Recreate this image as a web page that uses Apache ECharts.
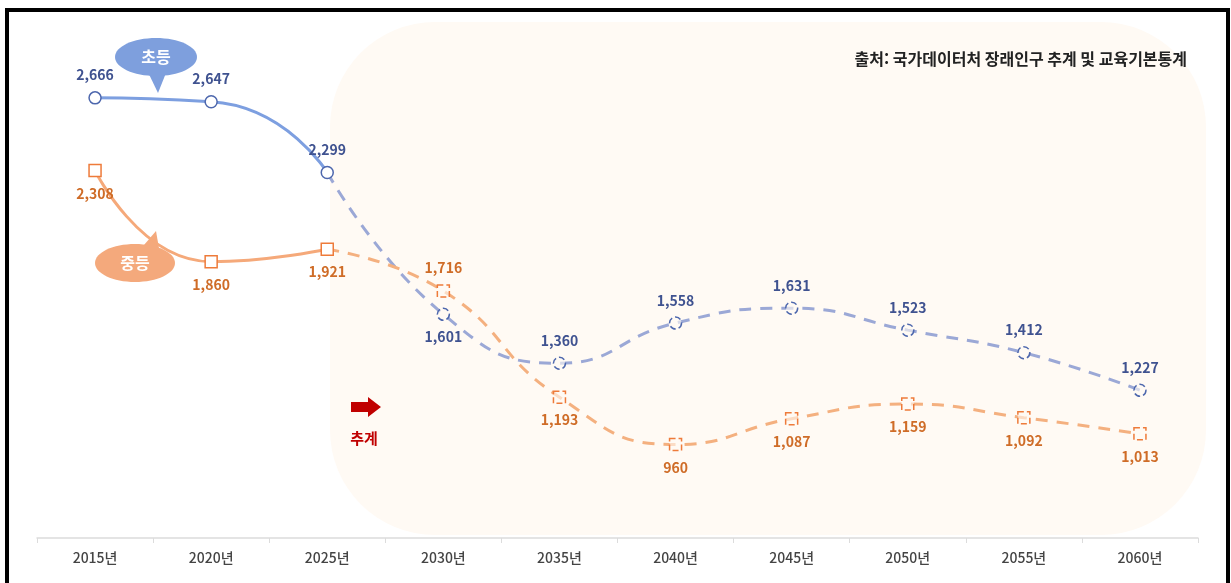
<!DOCTYPE html>
<html lang="ko">
<head>
    <meta charset="utf-8">
    <title>초등 중등 학생수 추계</title>
    <script src="https://cdn.jsdelivr.net/npm/echarts@6/dist/echarts.min.js"></script>
    <style>
        html, body { margin: 0; padding: 0; background: #fff; }
        #main { width: 1231px; height: 583px; }
    </style>
</head>
<body>
<div id="main"></div>
<script>
    var years = ['2015년', '2020년', '2025년', '2030년', '2035년', '2040년', '2045년', '2050년', '2055년', '2060년'];
    var elementary = [2666, 2647, 2299, 1601, 1360, 1558, 1631, 1523, 1412, 1227];
    var middle = [2308, 1860, 1921, 1716, 1193, 960, 1087, 1159, 1092, 1013];
    var actualCount = 3; // 2015~2025 실적, 이후 추계

    var FONT = '"Noto Sans CJK KR", "Noto Sans", sans-serif';

    var BLUE_LINE = '#7d9fe0', BLUE_DASH = '#9ba8d6', BLUE_MARK = '#4d67ad', BLUE_TEXT = '#3f5290';
    var ORG_LINE = '#f5a97a', ORG_DASH = '#f4b07f', ORG_MARK = '#ee7b3a', ORG_TEXT = '#cf6c27';

    function fmt(p) {
        return Number(p.value).toLocaleString('en-US');
    }

    // 실적 구간(실선)
    function solidPart(values) {
        return values.map(function (v, i) { return i < actualCount ? v : '-'; });
    }

    // 추계 구간(점선), 2025 지점은 이어주기만 함
    function dashPart(values, flip) {
        return values.map(function (v, i) {
            if (i < actualCount - 1) return '-';
            if (i === actualCount - 1) return {value: v, symbol: 'none', label: {show: false}};
            if (flip[i]) return {value: v, label: {position: flip[i]}};
            return v;
        });
    }

    var myChart = echarts.init(document.getElementById('main'));

    var labelBase = {fontSize: 14, fontWeight: 'bold', fontFamily: FONT, formatter: fmt, distance: 9};

    var option = {
        backgroundColor: '#fff',
        animation: false,
        grid: {
            left: 37,
            right: 33,
            top: 30,
            bottom: 45
        },
        xAxis: {
            type: 'category',
            data: years,
            boundaryGap: true,
            axisLine: {lineStyle: {color: '#dcdcdc', width: 1.5}},
            axisTick: {show: true, length: 5, lineStyle: {color: '#dcdcdc'}},
            axisLabel: {
                color: '#444',
                fontSize: 14,
                fontWeight: 500,
                fontFamily: FONT,
                margin: 13
            },
            splitLine: {show: false}
        },
        yAxis: {
            type: 'value',
            min: 500,
            max: 3000,
            show: false,
            splitLine: {show: false}
        },
        graphic: [
            {
                type: 'rect',
                z: -10,
                shape: {x: 330, y: 22, width: 876, height: 513, r: 105},
                style: {fill: '#fffaf4'}
            },
            {
                type: 'rect',
                z: 100,
                shape: {x: 7, y: 10, width: 1221, height: 600},
                style: {fill: 'none', stroke: '#000', lineWidth: 4}
            },
            {
                type: 'text',
                right: 44,
                top: 51,
                style: {
                    text: '출처: 국가데이터처 장래인구 추계 및 교육기본통계',
                    fill: '#222',
                    font: 'bold 16px ' + FONT
                }
            },
            // 초등 말풍선
            {
                type: 'polygon',
                shape: {points: [[146, 68], [168, 68], [158, 93]]},
                style: {fill: '#7e9fdd'}
            },
            {
                type: 'ellipse',
                shape: {cx: 156, cy: 57, rx: 41, ry: 19},
                style: {fill: '#7e9fdd'}
            },
            {
                type: 'text',
                x: 156, y: 57,
                style: {
                    text: '초등', fill: '#fff', font: 'bold 16px ' + FONT,
                    align: 'center', verticalAlign: 'middle'
                }
            },
            // 중등 말풍선
            {
                type: 'polygon',
                shape: {points: [[138, 252], [160, 254], [156, 231]]},
                style: {fill: '#f4a97c'}
            },
            {
                type: 'ellipse',
                shape: {cx: 135, cy: 263, rx: 40, ry: 19},
                style: {fill: '#f4a97c'}
            },
            {
                type: 'text',
                x: 135, y: 263,
                style: {
                    text: '중등', fill: '#fff', font: 'bold 16px ' + FONT,
                    align: 'center', verticalAlign: 'middle'
                }
            },
            // 추계 화살표
            {
                type: 'polygon',
                shape: {points: [[351, 402], [368, 402], [368, 397], [381, 407], [368, 417], [368, 412], [351, 412]]},
                style: {fill: '#c00000'}
            },
            {
                type: 'text',
                x: 364, y: 438,
                style: {
                    text: '추계', fill: '#c00000', font: 'bold 15px ' + FONT,
                    align: 'center', verticalAlign: 'middle'
                }
            }
        ],
        series: [{
            name: '중등',
            type: 'line',
            smooth: 0.55,
            z: 3,
            data: solidPart(middle),
            symbol: 'rect',
            symbolSize: 12,
            lineStyle: {color: ORG_LINE, width: 3},
            itemStyle: {color: '#fff', borderColor: ORG_MARK, borderWidth: 1.5},
            label: Object.assign({show: true, position: 'bottom', color: ORG_TEXT}, labelBase)
        }, {
            name: '중등 추계',
            type: 'line',
            smooth: true,
            z: 3,
            data: dashPart(middle, {3: 'top'}),
            symbol: 'rect',
            symbolSize: 12,
            lineStyle: {color: ORG_DASH, width: 3, type: [12, 9]},
            itemStyle: {color: 'rgba(255,250,244,0.6)', borderColor: ORG_MARK, borderWidth: 1.5, borderType: 'dashed'},
            label: Object.assign({show: true, position: 'bottom', color: ORG_TEXT}, labelBase)
        }, {
            name: '초등',
            type: 'line',
            smooth: 0.6,
            z: 2,
            data: solidPart(elementary),
            symbol: 'circle',
            symbolSize: 12,
            lineStyle: {color: BLUE_LINE, width: 3},
            itemStyle: {color: '#fff', borderColor: BLUE_MARK, borderWidth: 1.5},
            label: Object.assign({show: true, position: 'top', color: BLUE_TEXT}, labelBase)
        }, {
            name: '초등 추계',
            type: 'line',
            smooth: true,
            z: 2,
            data: dashPart(elementary, {3: 'bottom'}),
            symbol: 'circle',
            symbolSize: 12,
            lineStyle: {color: BLUE_DASH, width: 3, type: [12, 9]},
            itemStyle: {color: 'rgba(255,250,244,0.6)', borderColor: BLUE_MARK, borderWidth: 1.5, borderType: 'dashed'},
            label: Object.assign({show: true, position: 'top', color: BLUE_TEXT}, labelBase)
        }]
    };

    myChart.setOption(option);
</script>
</body>
</html>
